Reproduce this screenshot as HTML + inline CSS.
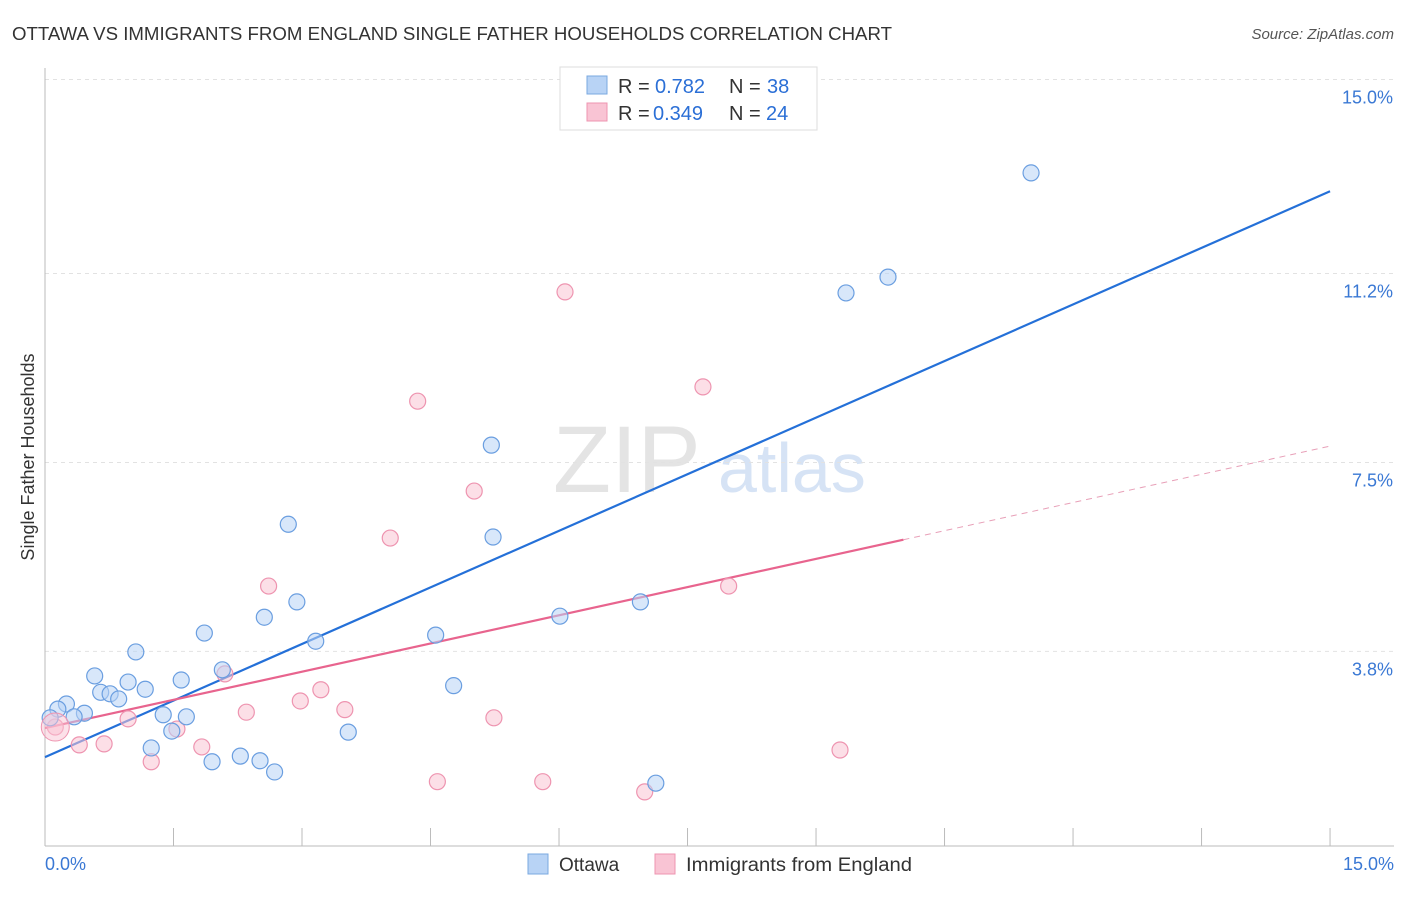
<!DOCTYPE html>
<html><head><meta charset="utf-8"><style>
body{margin:0;background:#fff;font-family:"Liberation Sans",sans-serif}
svg text{font-family:"Liberation Sans",sans-serif}
</style></head><body>
<svg width="1406" height="892" xmlns="http://www.w3.org/2000/svg" id="chart">
<text x="12" y="40" font-size="18" fill="#333" textLength="880" lengthAdjust="spacingAndGlyphs">OTTAWA VS IMMIGRANTS FROM ENGLAND SINGLE FATHER HOUSEHOLDS CORRELATION CHART</text>
<text x="1394" y="39" font-size="15" fill="#555" text-anchor="end" font-style="italic">Source: ZipAtlas.com</text>
<text x="0" y="0" transform="translate(34,457) rotate(-90)" font-size="18" fill="#333" text-anchor="middle">Single Father Households</text>
<text x="553" y="492" font-size="95" fill="#e4e4e4" font-family="Liberation Serif">ZIP</text>
<text x="718" y="492" font-size="70" fill="#d6e3f5">atlas</text>
<g id="grid"></g><g id="axes"></g><g id="lines"></g><g id="pts"></g>
<g>
<rect x="560" y="67" width="257" height="63" fill="#fff" stroke="#ddd"/>
<rect x="587" y="76" width="20" height="18" fill="#b8d3f5" stroke="#7aa8e0"/>
<rect x="587" y="103" width="20" height="18" fill="#f9c4d4" stroke="#ee94b0"/>
<text x="618" y="93" font-size="20" fill="#333">R =</text><text x="655" y="93" font-size="20" fill="#2b6fd6">0.782</text>
<text x="729" y="93" font-size="20" fill="#333">N =</text><text x="767" y="93" font-size="20" fill="#2b6fd6">38</text>
<text x="618" y="120" font-size="20" fill="#333">R =</text><text x="653" y="120" font-size="20" fill="#2b6fd6">0.349</text>
<text x="729" y="120" font-size="20" fill="#333">N =</text><text x="766" y="120" font-size="20" fill="#2b6fd6">24</text>
</g>
<g>
<rect x="528" y="854" width="20" height="20" fill="#b8d3f5" stroke="#7aa8e0"/>
<text x="559" y="871" font-size="19" fill="#333">Ottawa</text>
<rect x="655" y="854" width="20" height="20" fill="#f9c4d4" stroke="#ee94b0"/>
<text x="686" y="871" font-size="19" fill="#333" textLength="226" lengthAdjust="spacingAndGlyphs">Immigrants from England</text>
</g>
</svg>
<script>
const yTicks=[3.8,7.5,11.2,15.0];
const yTickLabels=["3.8%","7.5%","11.2%","15.0%"];
const xTickLabels=["0.0%","15.0%"];
const ottawaX=[11.51,9.84,9.35,5.21,5.23,2.84,2.94,2.56,3.16,4.56,6.01,6.95,1.86,1.06,2.07,0.58,1.59,0.97,0.65,0.76,1.17,0.86,0.25,0.15,0.46,0.34,0.06,1.38,1.65,1.48,3.54,4.77,1.24,2.28,1.95,2.51,2.68,7.13];
const ottawaY=[13.17,11.13,10.82,7.84,6.04,6.29,4.77,4.47,4.00,4.12,4.49,4.77,4.16,3.79,3.44,3.32,3.24,3.20,3.00,2.97,3.06,2.87,2.77,2.67,2.59,2.52,2.50,2.56,2.52,2.24,2.22,3.13,1.91,1.75,1.64,1.66,1.44,1.22];
const englandX=[6.07,7.68,4.35,5.01,4.03,2.61,7.98,2.10,3.22,2.98,3.50,2.35,0.97,5.24,1.54,0.12,0.40,0.69,1.83,1.24,9.28,4.58,5.81,7.00];
const englandY=[10.84,8.98,8.70,6.94,6.02,5.08,5.08,3.36,3.05,2.83,2.66,2.61,2.48,2.50,2.28,2.32,1.97,1.99,1.93,1.64,1.87,1.25,1.25,1.05];
const ottawaTrend=[1.73,12.81];
const englandTrend=[2.30,7.82];
const englandSolidEnd=10.02;
const X=v=>45+v*85.67, Y=v=>845.5-v*51.07;
const NS="http://www.w3.org/2000/svg";
function mk(tag,attrs,parent){const e=document.createElementNS(NS,tag);for(const k in attrs)e.setAttribute(k,attrs[k]);document.getElementById(parent).appendChild(e);return e;}
mk('line',{x1:45,x2:1394,y1:Y(15),y2:Y(15),stroke:'#ddd','stroke-dasharray':'4,4'},'grid');
yTicks.forEach((t,i)=>{
 let g=mk('line',{x1:45,x2:1394,y1:Y(t),y2:Y(t),stroke:'#e2e2e2','stroke-dasharray':'4,4'},'grid');
 
 
 let l=mk('text',{x:1393,y:Y(t)+24,'text-anchor':'end','font-size':18,fill:'#3a78d4'},'grid');
 l.textContent=yTickLabels[i];
 
 
});
mk('line',{x1:45,x2:45,y1:68,y2:846,stroke:'#bbb'},'axes');
mk('line',{x1:45,x2:1394,y1:846,y2:846,stroke:'#bbb'},'axes');
for(let i=0;i<=10;i++){let t=mk('line',{x1:X(i*1.5),x2:X(i*1.5),y1:828,y2:846,stroke:'#bbb'},'axes');
 
 }
let xl=mk('text',{x:45,y:870,'font-size':18,fill:'#3a78d4'},'axes');xl.textContent=xTickLabels[0];


let xr=mk('text',{x:1394,y:870,'font-size':18,fill:'#3a78d4','text-anchor':'end'},'axes');xr.textContent=xTickLabels[1];


function drawPts(xs,ys,fill,stroke,name){xs.forEach((x,i)=>{
 let c=mk('circle',{cx:X(x),cy:Y(ys[i]),r:8,fill:fill,'fill-opacity':0.55,stroke:stroke,'stroke-width':1.2},'pts');
 
 });}
drawPts(englandX,englandY,'#f9c4d4','#ee94b0','england-point');
drawPts(ottawaX,ottawaY,'#b8d3f5','#6a9ee0','ottawa-point');
let big=mk('circle',{cx:X(0.12),cy:Y(2.32),r:14,fill:'#f9c4d4','fill-opacity':0.5,stroke:'#ee94b0'},'pts');


const ey=x=>englandTrend[0]+(englandTrend[1]-englandTrend[0])*x/15;
let bl=mk('line',{x1:X(0),y1:Y(ottawaTrend[0]),x2:X(15),y2:Y(ottawaTrend[1]),stroke:'#2470d8','stroke-width':2.2},'lines');


let pl=mk('line',{x1:X(0),y1:Y(ey(0)),x2:X(englandSolidEnd),y2:Y(ey(englandSolidEnd)),stroke:'#e8648e','stroke-width':2.2},'lines');


let pd=mk('line',{x1:X(englandSolidEnd),y1:Y(ey(englandSolidEnd)),x2:X(15),y2:Y(ey(15)),stroke:'#e8a0b8','stroke-width':1,'stroke-dasharray':'6,5'},'lines');


</script>
</body></html>
